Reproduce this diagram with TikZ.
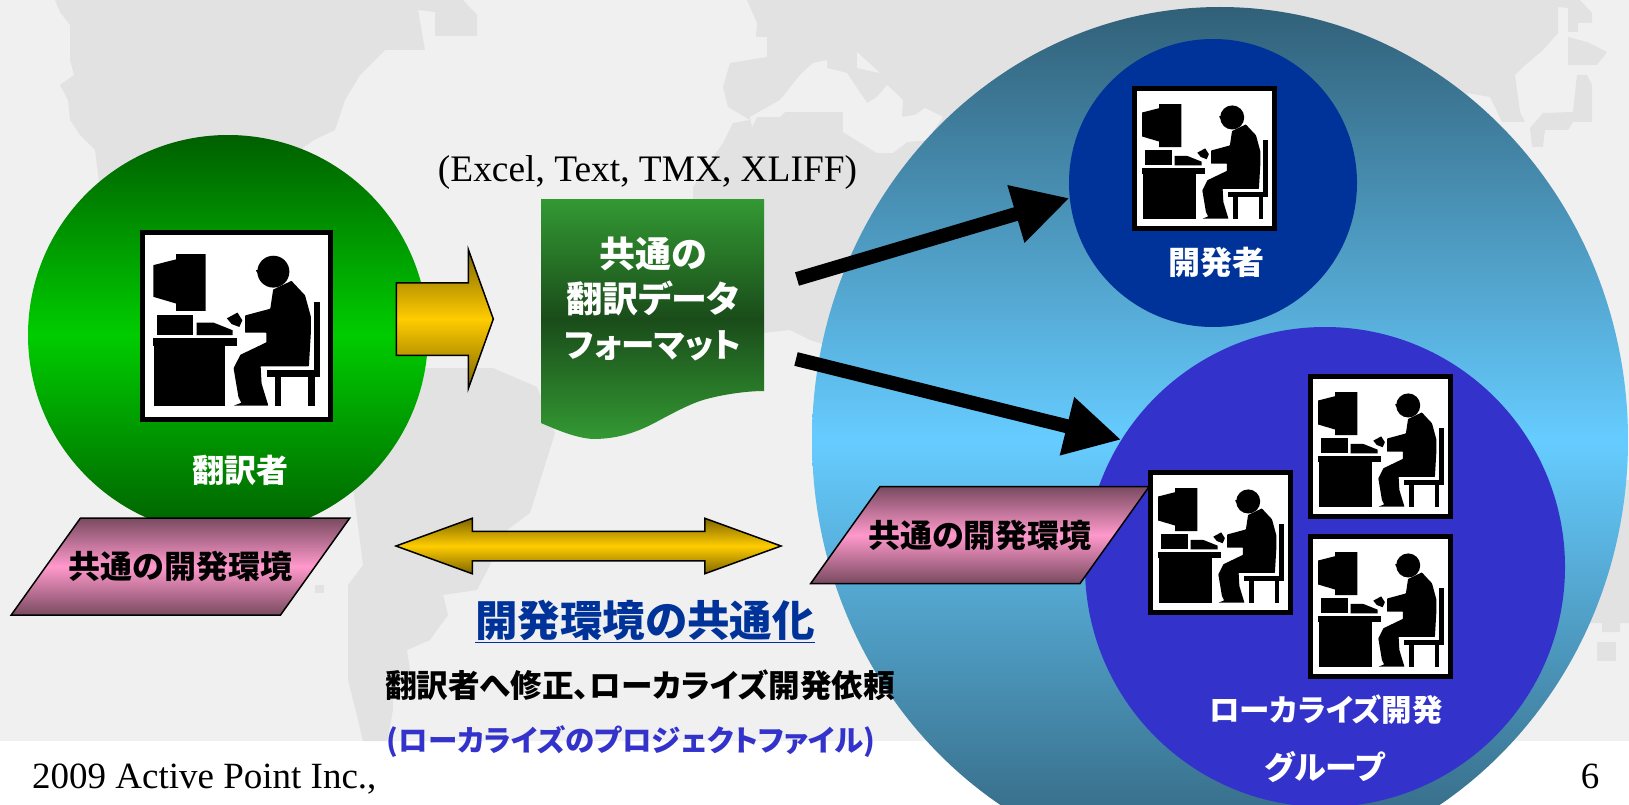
\documentclass[tikz,border=0pt]{standalone}
\usepackage{fontspec}
\usetikzlibrary{arrows.meta,shapes.geometric,shapes.arrows}
\setmainfont{Liberation Serif}
\newfontfamily\cjk[RawFeature=+palt]{Noto Sans CJK JP}

\definecolor{wallbg}{HTML}{F0F0F0}
\definecolor{mapgrey}{HTML}{E2E2E2}
\definecolor{navyblue}{HTML}{003399}
\definecolor{violetblue}{HTML}{3333CC}
\definecolor{gold}{HTML}{FFCC00}
\definecolor{golddark}{HTML}{7F6600}
\definecolor{envdark}{HTML}{794A60}
\definecolor{envpink}{HTML}{FF99CC}
\definecolor{deepteal}{HTML}{316078}
\definecolor{skyblue}{HTML}{66CCFF}
\definecolor{leafdark}{HTML}{005F00}
\definecolor{leafbright}{HTML}{00CC00}
\definecolor{sheetgreen}{HTML}{339933}
\definecolor{sheetdark}{HTML}{1A4C1A}

\tikzset{
  wtext/.style={font=\cjk\bfseries\fontsize{32}{40}\selectfont, text=white, inner sep=0pt},
  ktext/.style={font=\cjk\bfseries\fontsize{31.6}{40}\selectfont, text=black, inner sep=0pt},
  footer/.style={font=\fontsize{37}{44}\selectfont, anchor=base, inner sep=0pt},
  goldfill/.style={draw=black, line width=1.5pt, top color=golddark, bottom color=golddark, middle color=gold},
  envbox/.style={shape=trapezium, trapezium left angle=23.8, trapezium right angle=156.2, trapezium stretches=true,
                 draw=black, line width=1.5pt, minimum height=97pt, inner sep=0pt,
                 top color=envdark, bottom color=envdark, middle color=envpink,
                 font=\cjk\bfseries\fontsize{32}{40}\selectfont},
  deskbox/.style={draw=black, fill=white, inner sep=0pt, shape=rectangle},
  fatarrow/.style={line width=14pt, -{Triangle[length=56pt,width=56pt]}},
}

% box with the person at the computer; #1 name, #2 centre, #3 width, #4 height
\newcommand{\worker}[4]{
  \node[deskbox, line width=5pt, minimum width=#3-5pt, minimum height=#4-5pt] (#1) at (#2) {};
  \begin{scope}[shift={(#1.south west)}, x=#3, y=#4]
    \fill (.069,.817) -- (.187,.847) -- (.187,.875) -- (.340,.875) -- (.340,.579) -- (.187,.579) -- (.187,.617) -- (.069,.652) -- cycle;
    \fill (.090,.452) rectangle (.273,.557);
    \fill (.294,.452) -- (.294,.518) -- (.380,.518) -- (.480,.478) -- (.480,.452) -- cycle;
    \fill (.069,.395) rectangle (.500,.435);
    \fill (.073,.085) rectangle (.439,.395);
    \fill (.691,.783) ellipse [x radius=.083, y radius=.083];
    \fill (.600,.790) -- (.625,.750) -- (.640,.800) -- cycle;
    \fill[rounded corners=.5pt] (.785,.735) -- (.690,.690) -- (.675,.590) -- (.545,.555) -- (.545,.465) -- (.655,.465) -- (.655,.415)
       -- (.520,.350) -- (.485,.280) -- (.510,.130) -- (.525,.100) -- (.485,.085) -- (.665,.085) -- (.630,.200) -- (.625,.290)
       -- (.875,.290) -- (.885,.460) -- (.885,.550) -- (.855,.660) -- cycle;
    \fill (.450,.540) -- (.505,.570) -- (.530,.530) -- (.515,.495) -- (.475,.510) -- cycle;
    \fill (.900,.235) rectangle (.935,.625);
    \fill (.660,.235) rectangle (.935,.270);
    \fill (.698,.085) rectangle (.733,.235);
    \fill (.873,.085) rectangle (.905,.235);
  \end{scope}
}

\begin{document}
\begin{tikzpicture}[x=1pt, y=-1pt]
  \useasboundingbox (0,0) rectangle (1629,805);
  \clip (0,0) rectangle (1629,805);

  % map behind everything
  \fill[wallbg] (0,0) rectangle (1629,741);
  \begin{scope}[mapgrey]
    % americas
    \fill (55,0) -- (60,12) -- (70,25) -- (70,60) -- (74,75) -- (60,85) -- (68,100) -- (70,120) -- (80,135) -- (95,150) -- (100,190)
      -- (230,200) -- (314,140) -- (335,130) -- (345,100) -- (360,75) -- (385,50) -- (425,50) -- (418,10) -- (435,12) -- (435,36) -- (477,36) -- (477,15) -- (463,0) -- cycle;
    \fill (300,368) -- (493,368) -- (537,387) -- (555,433) -- (530,513) -- (507,530) -- (490,565) -- (477,590) -- (443,595) -- (448,615)
      -- (430,640) -- (407,650) -- (410,670) -- (393,690) -- (393,710) -- (387,741) -- (363,741) -- (358,720) -- (348,680) -- (348,585)
      -- (363,565) -- (353,487) -- (300,480) -- cycle;
    \fill (315,585) rectangle (324,593);
    % old world
    \fill (747,0) -- (757,23) -- (756,37) -- (767,37) -- (767,57) -- (730,63) -- (723,87) -- (728,107) -- (750,120) -- (733,123) -- (723,143)
      -- (693,187) -- (693,333) -- (763,333) -- (790,330) -- (810,340) -- (1000,400) -- (1500,300) -- (1467,93) -- (1490,97) -- (1502,122)
      -- (1525,122) -- (1520,112) -- (1515,75) -- (1523,67) -- (1543,50) -- (1558,33) -- (1558,0) -- cycle;
    \fill (1558,0) -- (1580,0) -- (1592,13) -- (1592,23) -- (1578,23) -- (1578,32) -- (1568,32) -- (1568,8) -- (1558,7) -- cycle;
    \fill (1568,37) -- (1587,42) -- (1607,52) -- (1597,65) -- (1568,65) -- cycle;
    \fill (1577,75) -- (1587,75) -- (1592,85) -- (1592,122) -- (1573,122) -- (1568,130) -- (1545,130) -- (1543,147) -- (1532,147) -- (1530,128) -- (1543,113) -- (1573,112) -- cycle;
    \fill (1550,480) -- (1629,480) -- (1629,623) -- (1620,623) -- (1620,632) -- (1602,632) -- (1602,623) -- (1570,623) -- cycle;
    \fill (1597,642) rectangle (1616,661);
  \end{scope}
  \fill[wallbg] (752,127) -- (757,117) -- (780,117) -- (785,112) -- (843,112) -- (843,132) -- (877,153) -- (893,153) -- (907,142) -- (927,140) -- (943,117)
     -- (925,108) -- (915,115) -- (902,117) -- (903,100) -- (887,85) -- (877,97) -- (867,103) -- (857,88) -- (847,73) -- (827,68) -- (827,60) -- (813,63) -- (800,75) -- (780,100) -- (750,117) -- cycle;
  \fill[wallbg] (857,52) -- (880,73) -- (857,68) -- cycle;

  % big group
  \node[ellipse, minimum width=816pt, minimum height=866pt, inner sep=0pt, top color=deepteal, bottom color=deepteal, middle color=skyblue] (devside) at (1220,440) {};
  \node[circle, minimum size=288pt, inner sep=0pt, fill=navyblue] (dev) at (1213,183) {};
  \node[circle, minimum size=480pt, inner sep=0pt, fill=violetblue] (locgroup) at (1325,567) {};

  % translator
  \node[circle, minimum size=400pt, inner sep=0pt, top color=leafdark, bottom color=leafdark, middle color=leafbright] (trans) at (228,335) {};
  \worker{transdesk}{236.5,326}{193pt}{192pt}
  \node[wtext] (translabel) at (240,470) {翻訳者};
  \node[envbox] (envleft) at (180.5,566.5) {\makebox[200pt]{共通の開発環境}};

  % common format sheet
  \path[top color=sheetgreen, bottom color=sheetgreen, middle color=sheetdark]
    (541,199) -- (764,199) -- (764,391) .. controls (745,391) and (720,395) .. (703,400) .. controls (690,404) and (675,412) .. (660,420)
    .. controls (640,431) and (620,439) .. (593,439) .. controls (575,438) and (555,429) .. (541,423) -- cycle;
  \node[wtext, font=\cjk\bfseries\fontsize{36}{45}\selectfont, align=center] (fmt) at (653,299) {共通の\\翻訳データ\\{\fontsize{33.5}{45}\selectfont フォーマット}};
  \node[font=\fontsize{37.4}{44}\selectfont, anchor=base, inner sep=0pt] (fmtkinds) at (647.5,182) {(Excel, Text, TMX, XLIFF)};

  % arrows
  \node[single arrow, goldfill, inner sep=0pt, text height=71pt, text depth=0pt, minimum height=97pt, single arrow head extend=33pt, single arrow tip angle=140.5] (sendarrow) at (438.3,319) {};
  \node[double arrow, goldfill, inner sep=0pt, text height=28pt, text depth=0pt, minimum height=385pt, double arrow head extend=13pt, double arrow tip angle=40] (sharearrow) at (588.5,546) {};
  \coordinate (upstart) at (797,279);
  \coordinate (downstart) at (796,359);
  \draw[fatarrow] (upstart) -- (dev.186);
  \draw[fatarrow] (downstart) -- (locgroup.148);

  % developer
  \worker{devdesk}{1204.5,158.5}{145pt}{145pt}
  \node[wtext] (devlabel) at (1216,262) {開発者};

  % localisation group
  \worker{locdeska}{1380.5,446.5}{145pt}{145pt}
  \worker{locdeskb}{1380.5,606.5}{145pt}{145pt}
  \worker{locdeskc}{1220.5,542.5}{145pt}{145pt}
  \node[envbox] (envright) at (980,535) {\makebox[200pt]{共通の開発環境}};
  \node[wtext, font=\cjk\bfseries\fontsize{30.5}{40}\selectfont] (loclabela) at (1326,710) {ローカライズ開発};
  \node[wtext] (loclabelb) at (1325,767) {グループ};

  % texts under the arrow
  \node[font=\cjk\bfseries\fontsize{42.5}{50}\selectfont, text=navyblue, inner sep=0pt] (sharetitle) at (645,621) {\underline{開発環境の共通化}};
  \node[ktext] (reqline) at (640,685) {翻訳者へ修正、ローカライズ開発依頼};
  \node[wtext, font=\cjk\bfseries\fontsize{29.5}{40}\selectfont, text=violetblue] (projline) at (631,742) {(ローカライズのプロジェクトファイル)};

  % footer
  \node[footer, anchor=base west] (copyline) at (32,788) {2009 Active Point Inc.,};
  \node[footer] (pageno) at (1590,788) {6};
\end{tikzpicture}
\end{document}
